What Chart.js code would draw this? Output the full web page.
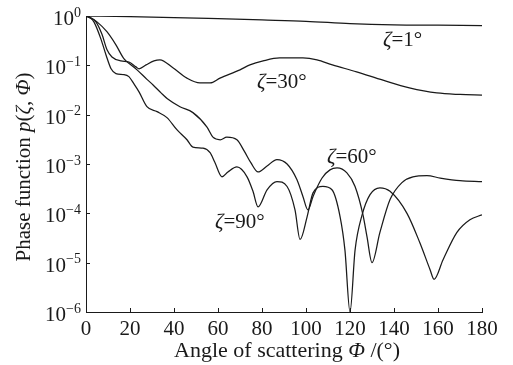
<!DOCTYPE html>
<html>
<head>
<meta charset="utf-8">
<script src="https://cdn.jsdelivr.net/npm/chart.js@4.4.0/dist/chart.umd.min.js"></script>
<style>
  html, body { margin: 0; padding: 0; background: #fff; }
  #wrap { width: 513px; height: 365px; }
</style>
</head>
<body>
<div id="wrap"><canvas id="chart" width="513" height="365"></canvas></div>
<script>
/* ===== data ===== */
const xTicks = [0, 20, 40, 60, 80, 100, 120, 140, 160, 180];
const yExponents = [0, -1, -2, -3, -4, -5, -6];

// zeta = 1 deg
const phi1 = [0, 20, 40, 60, 80, 100, 120, 140, 160, 180];
const p1 = [1, 0.97, 0.93, 0.88, 0.83, 0.78, 0.70, 0.66, 0.65, 0.64];

// zeta = 30 deg
const phi30 = [0, 2, 4.5, 7.3, 9.5, 11.8, 15.9, 19.5, 22.7, 24.1, 27.3, 30.9, 33.6, 39.5, 45.9,
  51.8, 56.4, 60.9, 70, 74.5, 80.5, 88, 98.6, 105, 112, 123, 135, 147, 159.5, 170, 180];
const p30 = [1, 0.91, 0.76, 0.42, 0.21, 0.148, 0.123, 0.117, 0.093, 0.085, 0.102, 0.123, 0.129, 0.089, 0.055,
  0.044, 0.044, 0.055, 0.081, 0.102, 0.123, 0.141, 0.141, 0.129, 0.102, 0.074, 0.050, 0.035, 0.0275, 0.0257, 0.025];

// zeta = 60 deg
const phi60 = [0, 2, 5, 9.5, 13.6, 17.3, 20.5, 23.2, 27.7, 30.5, 34, 37, 42.7, 48.6, 55, 57.7, 61, 64,
  68.6, 72, 75, 78.2, 82.3, 86.8, 91.4, 95.9, 98.6, 100.9, 103.2, 107.3, 110.9, 114.1, 118.6, 122.3,
  125.9, 127.7, 130, 133.6, 138.2, 143.6, 148.6, 155, 161, 170, 180];
const p60 = [1, 0.93, 0.76, 0.48, 0.26, 0.135, 0.102, 0.081, 0.052, 0.040, 0.028, 0.021, 0.0145, 0.011,
  0.0056, 0.0035, 0.0031, 0.0035, 0.0031, 0.0018, 0.00105, 0.00069, 0.00091, 0.00123, 0.0010, 0.00048,
  0.00022, 0.000117, 0.00022, 0.00052, 0.00076, 0.00083, 0.00066, 0.00035, 0.000093, 0.000034, 0.00001,
  0.000041, 0.00019, 0.00042, 0.00055, 0.00058, 0.00052, 0.00046, 0.00044];

// zeta = 90 deg
const phi90 = [0, 2, 3.6, 6.8, 9.1, 11.4, 13.6, 17.3, 19.5, 21.8, 24.1, 27.7, 32.3, 36.8, 41.4, 45.9,
  48.6, 53.2, 56.4, 58.5, 61.8, 64.5, 68.6, 73.2, 75.9, 78.2, 82.3, 86.8, 91.4, 95, 97.3, 100.5, 103.2,
  107.7, 111.8, 115.5, 117.7, 120, 122.3, 125.5, 129.1, 133.6, 138.2, 145.9, 151.8, 156.4, 158.2, 162.3,
  168.6, 174.5, 180];
const p90 = [1, 0.91, 0.76, 0.34, 0.162, 0.085, 0.068, 0.065, 0.059, 0.042, 0.029, 0.0145, 0.0115, 0.0087,
  0.0049, 0.0031, 0.0022, 0.0021, 0.0017, 0.0011, 0.00055, 0.00069, 0.00087, 0.00055, 0.00028, 0.000135,
  0.0003, 0.00044, 0.00035, 0.000117, 0.0000295, 0.000085, 0.00026, 0.00035, 0.0003, 0.000085, 0.000018,
  0.000001, 0.000018, 0.000093, 0.00024, 0.00033, 0.00028, 0.0001, 0.000025, 0.0000072, 0.0000046,
  0.0000115, 0.000041, 0.000074, 0.000093];

const zetaNames = ["1", "30", "60", "90"];

/* ===== style ===== */
const INK = "#1a1a1a";
const SERIF = "'Liberation Serif', 'DejaVu Serif', serif";
const TICK_LEN = 4;

// curve labels, anchored in data coords (left edge, baseline)
const LABEL_AT = [
  { x: 135, y: Math.pow(10, -0.61) },
  { x: 77.7, y: Math.pow(10, -1.46) },
  { x: 109.5, y: Math.pow(10, -2.98) },
  { x: 58.6, y: Math.pow(10, -4.29) },
];

const toPoints = (xs, ys) => xs.map((x, i) => ({ x, y: ys[i] }));

function drawRich(ctx, parts, x, y, size, align) {
  const fontFor = (it) => `${it ? "italic " : ""}${size}px ${SERIF}`;
  let total = 0;
  for (const [t, it] of parts) { ctx.font = fontFor(it); total += ctx.measureText(t).width; }
  let cx = align === "center" ? x - total / 2 : x;
  ctx.textAlign = "left";
  ctx.textBaseline = "alphabetic";
  for (const [t, it] of parts) {
    ctx.font = fontFor(it);
    ctx.fillText(t, cx, y);
    cx += ctx.measureText(t).width;
  }
}

const decorPlugin = {
  id: "decor",
  afterDraw(chart) {
    const { ctx, chartArea: a, scales: { x, y } } = chart;
    ctx.save();
    ctx.strokeStyle = INK;
    ctx.fillStyle = INK;
    ctx.lineWidth = 1;

    // inward tick marks
    ctx.beginPath();
    for (const v of xTicks) {
      const px = Math.round(x.getPixelForValue(v)) + 0.5;
      ctx.moveTo(px, a.bottom);
      ctx.lineTo(px, a.bottom - TICK_LEN);
    }
    for (const e of yExponents) {
      const py = Math.round(y.getPixelForValue(Math.pow(10, e))) + 0.5;
      ctx.moveTo(a.left, py);
      ctx.lineTo(a.left + TICK_LEN, py);
    }
    ctx.stroke();

    // y tick labels 10^n
    for (const e of yExponents) {
      const py = y.getPixelForValue(Math.pow(10, e));
      const exp = e === 0 ? "0" : "\u2212" + Math.abs(e);
      ctx.textBaseline = "alphabetic";
      ctx.textAlign = "right";
      ctx.font = `14px ${SERIF}`;
      const right = a.left - 5;
      const ew = ctx.measureText(exp).width;
      ctx.fillText(exp, right, py + 0.5);
      ctx.font = `21px ${SERIF}`;
      ctx.fillText("10", right - ew, py + 9);
    }

    // axis titles
    drawRich(ctx, [["Angle of scattering ", false], ["\u03A6", true], [" /(\u00B0)", false]],
      (a.left + a.right) / 2 + 3, 357, 22, "center");

    ctx.save();
    ctx.translate(30, 167);
    ctx.rotate(-Math.PI / 2);
    drawRich(ctx, [["Phase function ", false], ["p", true], ["(", false], ["\u03B6", true],
      [", ", false], ["\u03A6", true], [")", false]], 0, 0, 21, "center");
    ctx.restore();

    // curve labels
    zetaNames.forEach((n, i) => {
      const px = x.getPixelForValue(LABEL_AT[i].x);
      const py = y.getPixelForValue(LABEL_AT[i].y);
      drawRich(ctx, [["\u03B6", true], ["=" + n + "\u00B0", false]], px, py, 21, "left");
    });
    ctx.restore();
  },
};

const lineStyle = {
  borderColor: INK,
  borderWidth: 1.25,
  pointRadius: 0,
  fill: false,
  cubicInterpolationMode: "monotone",
};

new Chart(document.getElementById("chart"), {
  type: "line",
  data: {
    datasets: [
      { label: "zeta=1", data: toPoints(phi1, p1), ...lineStyle },
      { label: "zeta=30", data: toPoints(phi30, p30), ...lineStyle },
      { label: "zeta=60", data: toPoints(phi60, p60), ...lineStyle },
      { label: "zeta=90", data: toPoints(phi90, p90), ...lineStyle },
    ],
  },
  options: {
    responsive: false,
    animation: false,
    events: [],
    layout: { padding: { top: 16, right: 31, left: 0, bottom: 0 } },
    plugins: { legend: { display: false }, tooltip: { enabled: false } },
    scales: {
      x: {
        type: "linear",
        min: 0,
        max: 180,
        afterBuildTicks: (s) => { s.ticks = xTicks.map((v) => ({ value: v })); },
        afterFit: (s) => { s.height = 53; },
        grid: { display: true, drawOnChartArea: false, drawTicks: false },
        border: { display: true, color: INK, width: 1 },
        ticks: { color: INK, font: { family: SERIF, size: 21 }, padding: 5, maxRotation: 0,
                 callback: (v) => String(v) },
      },
      y: {
        type: "logarithmic",
        min: 1e-6,
        max: 1,
        afterBuildTicks: (s) => { s.ticks = yExponents.map((e) => ({ value: Math.pow(10, e) })); },
        afterFit: (s) => { s.width = 86; },
        grid: { display: true, drawOnChartArea: false, drawTicks: false },
        border: { display: true, color: INK, width: 1 },
        ticks: { display: false },
      },
    },
  },
  plugins: [decorPlugin],
});
</script>
</body>
</html>
